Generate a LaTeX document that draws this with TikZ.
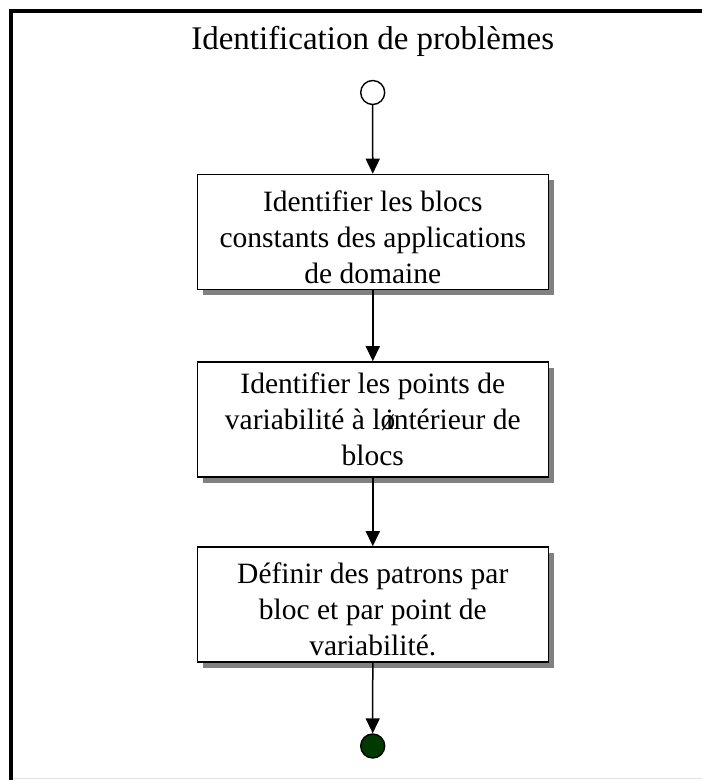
\documentclass[tikz,border=0pt]{standalone}
\usepackage{fontspec}
\setmainfont{Liberation Serif}
\usetikzlibrary{arrows.meta,shadows}

\definecolor{endgreen}{HTML}{003A00}
\definecolor{shadowgray}{HTML}{808080}
\definecolor{rulegray}{HTML}{E2E2E2}

\tikzset{
  stepbox/.style={draw=black, line width=1.6pt, fill=white,
    minimum width=351pt, minimum height=115pt, inner sep=0pt,
    drop shadow={shadow xshift=5.5pt, shadow yshift=-5.5pt,
      fill=shadowgray, opacity=1}},
  steptext/.style={align=center, inner sep=0pt,
    font=\fontsize{29.5pt}{36pt}\selectfont},
  flow/.style={line width=1.5pt, -{Triangle[length=15pt,width=14pt]}},
  startnode/.style={circle, draw=black, line width=1.4pt, fill=white,
    minimum size=24pt, inner sep=0pt},
  endnode/.style={circle, draw=black, line width=1.4pt, fill=endgreen,
    minimum size=24pt, inner sep=0pt},
}

\begin{document}
\begin{tikzpicture}[x=1pt, y=-1pt]
  \useasboundingbox (0,0) rectangle (702,780);
  \fill[white] (0,0) rectangle (702,780);

  % frame: heavy top and left rules, faint bottom rule
  \fill[black] (8.8,8.8) rectangle (702,12.6);
  \fill[black] (8.8,8.8) rectangle (12.6,780);
  \draw[rulegray, line width=1.2pt] (12.6,778.6) -- (702,778.6);

  % title
  \node[font=\fontsize{33pt}{38pt}\selectfont, anchor=base] (title)
    at (372.7,49) {Identification de problèmes};

  % activity flow
  \node[startnode] (start) at (372.7,92.5) {};
  \node[stepbox] (s1) at (372.8,232) {};
  \node[stepbox] (s2) at (372.8,419.5) {};
  \node[stepbox] (s3) at (372.8,604.5) {};
  \node[endnode] (stop) at (372.7,746) {};

  \node[steptext] (t1) at ([yshift=-5.5pt]s1.center)
    {Identifier les blocs\\constants des applications\\de domaine};
  \node[steptext] (t2) at (s2.center)
    {Identifier les points de\\variabilité à lø\kern-0.33em intérieur de\\blocs};
  \node[steptext] (t3) at ([yshift=-5pt]s3.center)
    {Définir des patrons par\\bloc et par point de\\variabilité.};

  \draw[flow] (start) -- (s1);
  \draw[flow] (s1) -- (s2);
  \draw[flow] (s2) -- (s3);
  \draw[flow] (s3) -- (stop);
\end{tikzpicture}
\end{document}
